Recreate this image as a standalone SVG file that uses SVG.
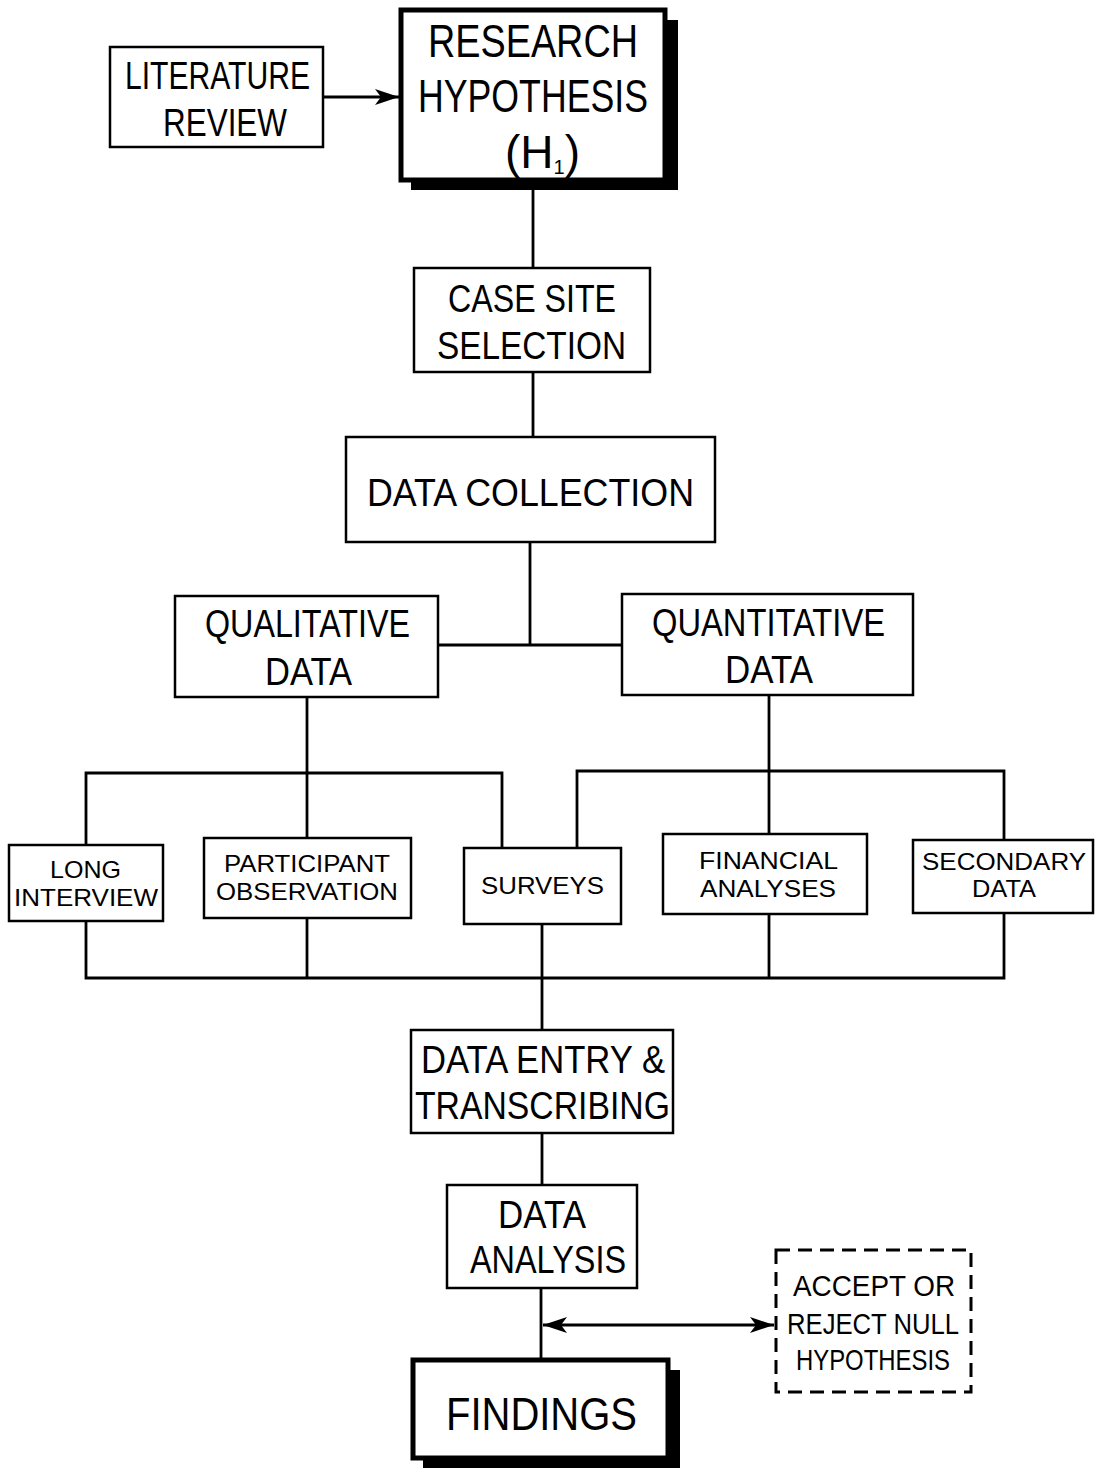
<svg xmlns="http://www.w3.org/2000/svg" width="1095" height="1470" viewBox="0 0 1095 1470">
<defs>
<marker id="arr" viewBox="0 0 24 16" refX="24" refY="8" markerWidth="24" markerHeight="16" markerUnits="userSpaceOnUse" orient="auto-start-reverse">
<path d="M0,0 L24,8 L0,16 L6,8 Z" fill="#000"/>
</marker>
</defs>
<style>
.box{fill:#fff;stroke:#000;stroke-width:2.5}
.thick{fill:#fff;stroke:#000;stroke-width:5}
.shadow{fill:#000}
.dash{fill:#fff;stroke:#000;stroke-width:3;stroke-dasharray:14 8}
.ln{fill:none;stroke:#000;stroke-width:2.8}
.big{font-family:"Liberation Sans",Arial,sans-serif;font-size:38px;fill:#000;text-anchor:start}
.huge{font-family:"Liberation Sans",Arial,sans-serif;font-size:46px;fill:#000}
.mid{font-family:"Liberation Sans",Arial,sans-serif;font-size:30px;fill:#000}
.sm{font-family:"Liberation Sans",Arial,sans-serif;font-size:24px;fill:#000}
</style>
<rect width="1095" height="1470" fill="#fff"/>
<g id="connectors">
<line class="ln" x1="323" y1="97" x2="399" y2="97" marker-end="url(#arr)"/>
<line class="ln" x1="533" y1="185" x2="533" y2="268"/>
<line class="ln" x1="533" y1="372" x2="533" y2="437"/>
<line class="ln" x1="530" y1="542" x2="530" y2="645"/>
<line class="ln" x1="438" y1="645" x2="622" y2="645"/>
<line class="ln" x1="307" y1="697" x2="307" y2="773"/>
<polyline class="ln" points="86,845 86,773 502,773 502,848"/>
<line class="ln" x1="307" y1="773" x2="307" y2="838"/>
<line class="ln" x1="769" y1="695" x2="769" y2="771"/>
<polyline class="ln" points="577,848 577,771 1004,771 1004,840"/>
<line class="ln" x1="769" y1="771" x2="769" y2="834"/>
<polyline class="ln" points="86,921 86,978 1004,978 1004,913"/>
<line class="ln" x1="307" y1="918" x2="307" y2="978"/>
<line class="ln" x1="769" y1="914" x2="769" y2="978"/>
<line class="ln" x1="542" y1="924" x2="542" y2="1030"/>
<line class="ln" x1="542" y1="1133" x2="542" y2="1185"/>
<line class="ln" x1="541" y1="1288" x2="541" y2="1360"/>
<line class="ln" x1="543" y1="1325" x2="774" y2="1325" marker-start="url(#arr)" marker-end="url(#arr)"/>
</g>
<g id="literature">
<rect class="box" x="110" y="47" width="213" height="100"/>
<text class="big" x="125" y="89" textLength="185" lengthAdjust="spacingAndGlyphs">LITERATURE</text>
<text class="big" x="163" y="136" textLength="124" lengthAdjust="spacingAndGlyphs">REVIEW</text>
</g>
<g id="hypothesis">
<rect class="shadow" x="411" y="20" width="267" height="170"/>
<rect class="thick" x="401" y="10" width="264" height="170"/>
<text class="huge" x="428" y="57" textLength="210" lengthAdjust="spacingAndGlyphs">RESEARCH</text>
<text class="huge" x="418" y="112" textLength="230" lengthAdjust="spacingAndGlyphs">HYPOTHESIS</text>
<text class="huge" x="505" y="168">(H<tspan font-size="20" dy="6">1</tspan><tspan dy="-6">)</tspan></text>
</g>
<g id="casesite">
<rect class="box" x="414" y="268" width="236" height="104"/>
<text class="big" x="448" y="312" textLength="168" lengthAdjust="spacingAndGlyphs">CASE SITE</text>
<text class="big" x="437" y="359" textLength="189" lengthAdjust="spacingAndGlyphs">SELECTION</text>
</g>
<g id="datacollection">
<rect class="box" x="346" y="437" width="369" height="105"/>
<text class="big" x="367" y="506" textLength="327" lengthAdjust="spacingAndGlyphs">DATA COLLECTION</text>
</g>
<g id="qualitative">
<rect class="box" x="175" y="596" width="263" height="101"/>
<text class="big" x="205" y="637" textLength="205" lengthAdjust="spacingAndGlyphs">QUALITATIVE</text>
<text class="big" x="265" y="685" textLength="87" lengthAdjust="spacingAndGlyphs">DATA</text>
</g>
<g id="quantitative">
<rect class="box" x="622" y="594" width="291" height="101"/>
<text class="big" x="652" y="636" textLength="233" lengthAdjust="spacingAndGlyphs">QUANTITATIVE</text>
<text class="big" x="725" y="683" textLength="88" lengthAdjust="spacingAndGlyphs">DATA</text>
</g>
<g id="longinterview">
<rect class="box" x="9" y="845" width="154" height="76"/>
<text class="sm" x="50" y="878" textLength="71" lengthAdjust="spacingAndGlyphs">LONG</text>
<text class="sm" x="14" y="906" textLength="144" lengthAdjust="spacingAndGlyphs">INTERVIEW</text>
</g>
<g id="participant">
<rect class="box" x="204" y="838" width="207" height="80"/>
<text class="sm" x="224" y="872" textLength="166" lengthAdjust="spacingAndGlyphs">PARTICIPANT</text>
<text class="sm" x="216" y="900" textLength="182" lengthAdjust="spacingAndGlyphs">OBSERVATION</text>
</g>
<g id="surveys">
<rect class="box" x="464" y="848" width="157" height="76"/>
<text class="sm" x="481" y="894" textLength="123" lengthAdjust="spacingAndGlyphs">SURVEYS</text>
</g>
<g id="financial">
<rect class="box" x="663" y="834" width="204" height="80"/>
<text class="sm" x="699" y="869" textLength="139" lengthAdjust="spacingAndGlyphs">FINANCIAL</text>
<text class="sm" x="700" y="897" textLength="136" lengthAdjust="spacingAndGlyphs">ANALYSES</text>
</g>
<g id="secondary">
<rect class="box" x="913" y="840" width="180" height="73"/>
<text class="sm" x="922" y="870" textLength="164" lengthAdjust="spacingAndGlyphs">SECONDARY</text>
<text class="sm" x="972" y="897" textLength="64" lengthAdjust="spacingAndGlyphs">DATA</text>
</g>
<g id="dataentry">
<rect class="box" x="411" y="1030" width="262" height="103"/>
<text class="big" x="421" y="1073" textLength="244" lengthAdjust="spacingAndGlyphs">DATA ENTRY &amp;</text>
<text class="big" x="415" y="1119" textLength="255" lengthAdjust="spacingAndGlyphs">TRANSCRIBING</text>
</g>
<g id="dataanalysis">
<rect class="box" x="447" y="1185" width="190" height="103"/>
<text class="big" x="498" y="1228" textLength="88" lengthAdjust="spacingAndGlyphs">DATA</text>
<text class="big" x="470" y="1273" textLength="156" lengthAdjust="spacingAndGlyphs">ANALYSIS</text>
</g>
<g id="accept">
<rect class="dash" x="776" y="1250" width="195" height="142"/>
<text class="mid" x="793" y="1296" textLength="162" lengthAdjust="spacingAndGlyphs">ACCEPT OR</text>
<text class="mid" x="787" y="1334" textLength="172" lengthAdjust="spacingAndGlyphs">REJECT NULL</text>
<text class="mid" x="796" y="1370" textLength="154" lengthAdjust="spacingAndGlyphs">HYPOTHESIS</text>
</g>
<g id="findings">
<rect class="shadow" x="423" y="1370" width="257" height="98"/>
<rect class="thick" x="413" y="1360" width="255" height="98"/>
<text class="huge" x="446" y="1430" textLength="191" lengthAdjust="spacingAndGlyphs">FINDINGS</text>
</g>
</svg>
